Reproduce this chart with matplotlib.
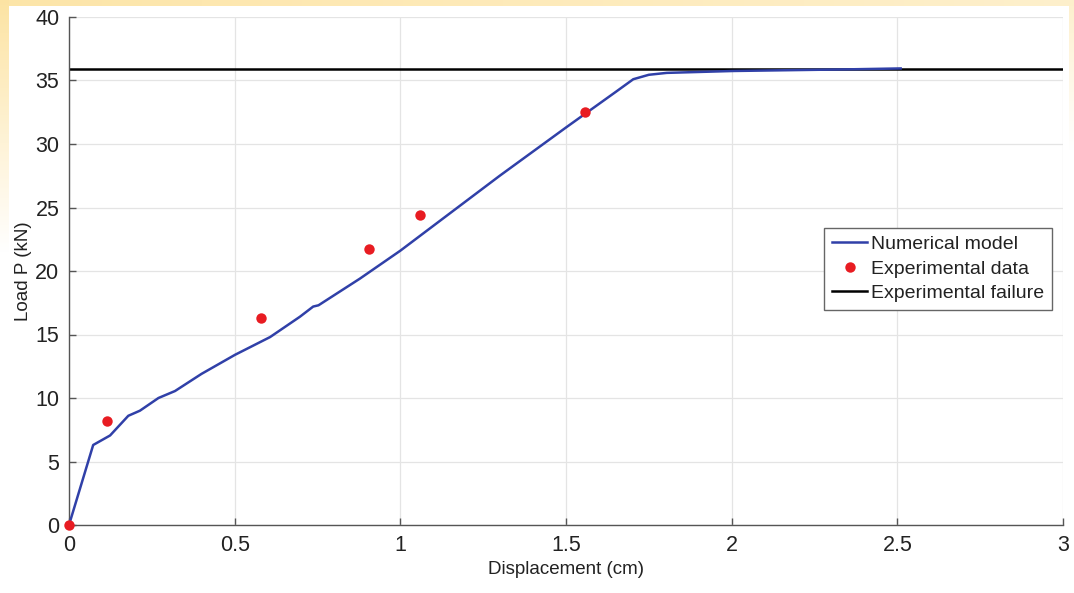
import numpy as np
import matplotlib.pyplot as plt

plt.rcParams['font.family'] = ['Liberation Sans', 'DejaVu Sans']

# ---------- 数据 ----------
model_x = [0.0, 0.073, 0.124, 0.179, 0.214, 0.27, 0.32, 0.40, 0.501, 0.607, 0.697,
           0.737, 0.753, 0.878, 1.0, 1.3, 1.5, 1.65, 1.703, 1.75,
           1.804, 2.005, 2.357, 2.51]
model_y = [0.0, 6.3, 7.05, 8.6, 9.0, 10.0, 10.55, 11.9, 13.4, 14.8, 16.4,
           17.2, 17.3, 19.4, 21.6, 27.5, 31.3, 34.1, 35.1, 35.45,
           35.6, 35.75, 35.88, 35.95]

exp_x = [0.0, 0.116, 0.58, 0.906, 1.06, 1.557]
exp_y = [0.0, 8.15, 16.3, 21.7, 24.4, 32.5]

failure_load = 35.9

x_ticks = [0, 0.5, 1, 1.5, 2, 2.5, 3]
x_tick_labels = ['0', '0.5', '1', '1.5', '2', '2.5', '3']
y_ticks = [0, 5, 10, 15, 20, 25, 30, 35, 40]

# ---------- 画布 ----------
W, H = 1074, 593
fig = plt.figure(figsize=(W / 100, H / 100), dpi=100)

# 背景：黄色渐变边框
bg = fig.add_axes([0, 0, 1, 1])
bg.set_axis_off()
yy, xx = np.mgrid[0:H, 0:W]
yellow = np.array([0.99, 0.88, 0.60])
wt = np.zeros((H, W))
top = yy < 6
wt[top] = 0.85 - 0.35 * xx[top] / W
left_band = xx < 9
wt[left_band] = np.maximum(wt[left_band], np.clip(0.9 - yy[left_band] / 280.0, 0, 1))
right_band = xx > W - 6
wt[right_band] = np.maximum(wt[right_band], np.clip(0.5 - yy[right_band] / 300.0, 0, 1))
img = np.ones((H, W, 3)) * (1 - wt[..., None]) + yellow * wt[..., None]
bg.imshow(img, extent=[0, 1, 0, 1], aspect='auto', interpolation='bilinear')
bg.set_xlim(0, 1)
bg.set_ylim(0, 1)

ax = fig.add_axes([69 / W, 1 - 525 / H, (1063 - 69) / W, (525 - 17) / H])
ax.patch.set_alpha(0)

ax.plot(model_x, model_y, color='#3040a8', lw=1.8, label='Numerical model', zorder=3)
ax.plot(exp_x, exp_y, 'o', color='#e81c22', markersize=7.5, markeredgewidth=0,
        label='Experimental data', zorder=4, clip_on=False)
ax.axhline(failure_load, color='black', lw=1.8, label='Experimental failure', zorder=2)

ax.set_xlim(0, 3)
ax.set_ylim(0, 40)
ax.set_xticks(x_ticks)
ax.set_xticklabels(x_tick_labels)
ax.set_yticks(y_ticks)
ax.grid(True, color='#e4e4e4', lw=0.9)
ax.set_axisbelow(True)

for s in ['top', 'right']:
    ax.spines[s].set_visible(False)
for s in ['left', 'bottom']:
    ax.spines[s].set_color('#555555')
    ax.spines[s].set_linewidth(1.0)
ax.tick_params(direction='in', length=5, width=1, color='#555555',
               labelsize=15.5, labelcolor='#222222', pad=7)

ax.set_xlabel('Displacement (cm)', fontsize=13.5, color='#222222', labelpad=4)
ax.set_ylabel('Load P (kN)', fontsize=13.5, color='#222222', labelpad=2)

leg = ax.legend(loc='upper right', bbox_to_anchor=(0.989, 0.585), borderaxespad=0,
                fontsize=14, fancybox=False, framealpha=1, edgecolor='#666666',
                handlelength=1.8, handletextpad=0.2, borderpad=0.4, labelspacing=0.35)
leg.get_frame().set_linewidth(1.0)
for t in leg.get_texts():
    t.set_color('#222222')

fig.savefig('out.png', dpi=100)
